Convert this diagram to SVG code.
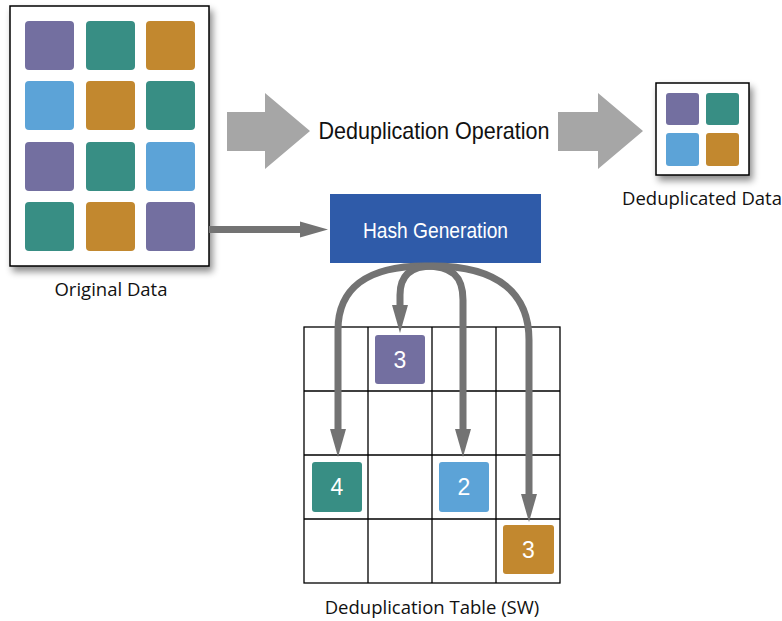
<svg xmlns="http://www.w3.org/2000/svg" width="782" height="621" viewBox="0 0 782 621">
<defs>
<style>
.frame{fill:#fff;stroke:#000;stroke-width:1.5}
.pu{fill:#736FA0}.te{fill:#388E84}.go{fill:#C2882F}.bl{fill:#5CA3D7}
.lbl{font-family:"Open Sans","Liberation Sans",sans-serif;font-size:18.5px;fill:#111;text-anchor:middle}
.num{font-family:"Liberation Sans",Arial,sans-serif;font-size:23px;fill:#fff;text-anchor:middle}
.conn{fill:none;stroke:#737373;stroke-width:7}
.grid{stroke:#000;stroke-width:1.3;fill:none}
.big{fill:#A6A6A6}
</style>
<filter id="sh" x="-10%" y="-10%" width="130%" height="130%">
<feDropShadow dx="3" dy="5" stdDeviation="3.5" flood-color="#000" flood-opacity="0.45"/>
</filter>
<marker id="ah" markerUnits="userSpaceOnUse" markerWidth="30" markerHeight="18" refX="1" refY="0" viewBox="0 -9 30 18" orient="auto" overflow="visible">
<path d="M0,-8 L28,0 L0,8 z" fill="#737373"/>
</marker>
</defs>

<g id="original-data">
<rect class="frame" x="10" y="6" width="199" height="260" filter="url(#sh)"/>
<rect class="pu" x="25" y="21" width="49" height="49" rx="4"/>
<rect class="te" x="86" y="21" width="49" height="49" rx="4"/>
<rect class="go" x="146" y="21" width="49" height="49" rx="4"/>
<rect class="bl" x="25" y="81" width="49" height="49" rx="4"/>
<rect class="go" x="86" y="81" width="49" height="49" rx="4"/>
<rect class="te" x="146" y="81" width="49" height="49" rx="4"/>
<rect class="pu" x="25" y="142" width="49" height="49" rx="4"/>
<rect class="te" x="86" y="142" width="49" height="49" rx="4"/>
<rect class="bl" x="146" y="142" width="49" height="49" rx="4"/>
<rect class="te" x="25" y="202" width="49" height="49" rx="4"/>
<rect class="go" x="86" y="202" width="49" height="49" rx="4"/>
<rect class="pu" x="146" y="202" width="49" height="49" rx="4"/>
<text class="lbl" x="111" y="296">Original Data</text>
</g>

<g id="dedup-operation">
<polygon class="big" points="227,112 265,112 265,93 310,131 265,169 265,151 227,151"/>
<text x="434" y="139" font-family="Liberation Sans, Arial, sans-serif" font-size="24" fill="#111" text-anchor="middle" textLength="231" lengthAdjust="spacingAndGlyphs">Deduplication Operation</text>
<polygon class="big" points="558,112 598,112 598,93 643,131 598,169 598,151 558,151"/>
</g>

<g id="deduplicated-data">
<rect class="frame" x="656" y="83" width="93" height="92" filter="url(#sh)"/>
<rect class="pu" x="666" y="93" width="33" height="32" rx="3"/>
<rect class="te" x="706" y="93" width="33" height="32" rx="3"/>
<rect class="bl" x="666" y="133" width="33" height="33" rx="3"/>
<rect class="go" x="706" y="133" width="33" height="33" rx="3"/>
<text class="lbl" x="702" y="205">Deduplicated Data</text>
</g>

<g id="hash-generation">
<rect x="330" y="194" width="211" height="69" fill="#2F5BA9"/>
<text x="435.5" y="238" font-family="Liberation Sans, Arial, sans-serif" font-size="22" fill="#fff" text-anchor="middle" textLength="145" lengthAdjust="spacingAndGlyphs">Hash Generation</text>
</g>

<g id="dedup-table">
<rect class="grid" x="304" y="327" width="256" height="256"/>
<path class="grid" d="M368,327V583M432,327V583M496,327V583M304,391H560M304,455H560M304,519H560"/>
<rect class="pu" x="375" y="335" width="50" height="49" rx="3"/>
<text class="num" x="400" y="368">3</text>
<rect class="te" x="312" y="462" width="50" height="50" rx="3"/>
<text class="num" x="337" y="495">4</text>
<rect class="bl" x="439" y="462" width="50" height="50" rx="3"/>
<text class="num" x="464" y="495">2</text>
<rect class="go" x="503" y="525" width="51" height="49" rx="3"/>
<text class="num" x="528.5" y="558">3</text>
<text class="lbl" x="432" y="614">Deduplication Table (SW)</text>
</g>

<g id="connectors">
<path class="conn" d="M209,229.5 H301" marker-end="url(#ah)"/>
<path class="conn" d="M425,266 C365,266 338,290 338,330 L338,430" marker-end="url(#ah)"/>
<path class="conn" d="M433,266 C410,266 400,276 400,295 L400,306" marker-end="url(#ah)"/>
<path class="conn" d="M425,266 C452,266 463,276 463,300 L463,430" marker-end="url(#ah)"/>
<path class="conn" d="M433,266 C500,266 529,295 529,340 L529,495" marker-end="url(#ah)"/>
</g>
</svg>
